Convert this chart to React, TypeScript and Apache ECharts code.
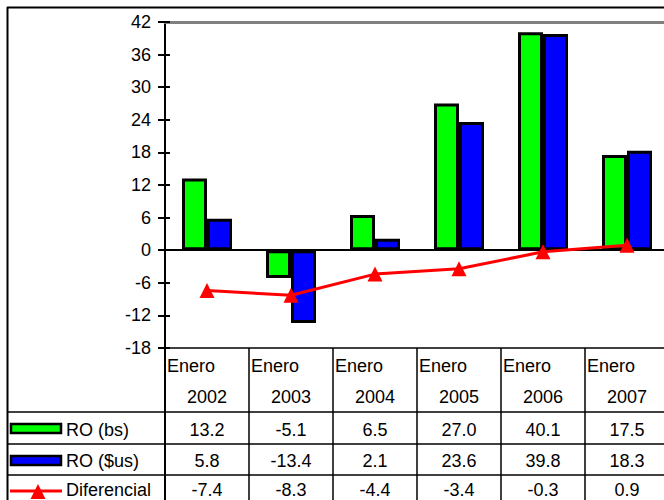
import React, { useEffect, useRef } from "react";
import * as echarts from "echarts";

const categories = ["2002", "2003", "2004", "2005", "2006", "2007"];
const headerPrefix = "Enero";
const seriesNames = ["RO (bs)", "RO ($us)", "Diferencial"];
const roBs = [13.2, -5.1, 6.5, 27.0, 40.1, 17.5];
const roUs = [5.8, -13.4, 2.1, 23.6, 39.8, 18.3];
const diferencial = [-7.4, -8.3, -4.4, -3.4, -0.3, 0.9];
const yMin = -18;
const yMax = 42;
const yInterval = 6;

const FONT = '18px "Liberation Sans", Arial, sans-serif';
const FAMILY = '"Liberation Sans", Arial, sans-serif';

export default function App() {
  const ref = useRef<HTMLDivElement>(null);

  useEffect(() => {
    if (!ref.current) return;
    const chart = echarts.init(ref.current, null, { renderer: "svg" });
    const gridLeft = 165;
    const gridTop = 22;
    const gridHeight = 326;
    const gridWidth = 504;

    const option: any = {
      animation: false,
      backgroundColor: "#ffffff",
      grid: { left: gridLeft, top: gridTop, width: gridWidth, height: gridHeight, containLabel: false },
      xAxis: [
        {
          type: "category",
          data: categories,
          position: "bottom",
          axisLine: { show: true, onZero: true, lineStyle: { color: "#000", width: 2 } },
          axisTick: { show: false },
          axisLabel: { show: false },
          splitLine: { show: false },
        },
        {
          type: "category",
          data: categories,
          position: "top",
          axisLine: { show: true, onZero: false, lineStyle: { color: "#808080", width: 3 } },
          axisTick: { show: false },
          axisLabel: { show: false },
          splitLine: { show: false },
        },
      ],
      yAxis: [
        {
          type: "value",
          min: yMin,
          max: yMax,
          interval: yInterval,
          position: "left",
          axisLine: { show: true, lineStyle: { color: "#000", width: 2 } },
          axisTick: { show: true, inside: false, length: 7, lineStyle: { color: "#000", width: 2 } },
          axisLabel: { show: true, margin: 14, color: "#000", fontSize: 18, fontFamily: FAMILY },
          splitLine: { show: false },
        },
        {
          type: "value",
          min: yMin,
          max: yMax,
          interval: yInterval,
          position: "left",
          axisLine: { show: false },
          axisTick: { show: true, inside: true, length: 5, lineStyle: { color: "#000", width: 2 } },
          axisLabel: { show: false },
          splitLine: { show: false },
        },
      ],
      series: [
        {
          name: seriesNames[0],
          type: "bar",
          data: roBs,
          barWidth: 25,
          barGap: "0%",
          itemStyle: { color: "#00ff00", borderColor: "#000", borderWidth: 3 },
        },
        {
          name: seriesNames[1],
          type: "bar",
          data: roUs,
          barWidth: 25,
          barGap: "0%",
          itemStyle: { color: "#0000ff", borderColor: "#000", borderWidth: 3 },
        },
        {
          name: seriesNames[2],
          type: "line",
          data: diferencial,
          symbol: "triangle",
          symbolSize: 15,
          lineStyle: { color: "#ff0000", width: 3 },
          itemStyle: { color: "#ff0000" },
          z: 5,
        },
      ],
    };
    chart.setOption(option);

    const centers = categories.map((c) => chart.convertToPixel({ xAxisIndex: 0 }, c) as number);
    const band = centers.length > 1 ? centers[1] - centers[0] : gridWidth;
    const colLefts = centers.map((c) => c - band / 2);
    const right = 700;
    const tableTop = gridTop + gridHeight;
    const rowLines = [412, 444, 475];
    const rowCenters = [430, 461, 490];
    const rowValues = [roBs, roUs, diferencial];

    const lineStyle = { stroke: "#000", lineWidth: 1.5 };
    const g: any[] = [];
    g.push({ type: "line", shape: { x1: 7, y1: 7.5, x2: right, y2: 7.5 }, style: { stroke: "#000", lineWidth: 2 } });
    g.push({ type: "line", shape: { x1: 7.5, y1: 7, x2: 7.5, y2: 500 }, style: { stroke: "#000", lineWidth: 2 } });
    g.push({ type: "line", shape: { x1: gridLeft, y1: tableTop, x2: right, y2: tableTop }, style: lineStyle });
    rowLines.forEach((y) => {
      g.push({ type: "line", shape: { x1: 7, y1: y, x2: right, y2: y }, style: lineStyle });
    });
    colLefts.forEach((x, i) => {
      g.push({
        type: "line",
        shape: { x1: x, y1: i === 0 ? tableTop - 1 : tableTop, x2: x, y2: 500 },
        style: i === 0 ? { stroke: "#000", lineWidth: 2 } : lineStyle,
      });
    });
    g.push({ type: "line", shape: { x1: colLefts[colLefts.length - 1] + band, y1: tableTop, x2: colLefts[colLefts.length - 1] + band, y2: 500 }, style: lineStyle });

    const txt = (text: string, x: number, y: number, align: string) => ({
      type: "text",
      x,
      y,
      style: {
        text,
        font: FONT,
        fill: "#000",
        textAlign: align,
        textVerticalAlign: "middle",
        align,
        verticalAlign: "middle",
      },
      z: 10,
    });

    categories.forEach((c, i) => {
      g.push(txt(headerPrefix, colLefts[i] + 2, 366, "left"));
      g.push(txt(c, centers[i], 397, "center"));
    });
    rowValues.forEach((vals, r) => {
      vals.forEach((v, i) => {
        g.push(txt(v.toFixed(1), centers[i], rowCenters[r], "center"));
      });
      g.push(txt(seriesNames[r], 66, rowCenters[r], "left"));
    });
    g.push({ type: "rect", shape: { x: 11, y: 424, width: 50, height: 9 }, style: { fill: "#00ff00", stroke: "#000", lineWidth: 2.5 }, z: 10 });
    g.push({ type: "rect", shape: { x: 11, y: 456, width: 50, height: 9 }, style: { fill: "#0000ff", stroke: "#000", lineWidth: 2.5 }, z: 10 });
    g.push({ type: "line", shape: { x1: 10, y1: 491, x2: 62, y2: 491 }, style: { stroke: "#ff0000", lineWidth: 3 }, z: 10 });
    g.push({ type: "polygon", shape: { points: [[38, 484], [30.5, 499], [45.5, 499]] }, style: { fill: "#ff0000" }, z: 10 });

    chart.setOption({ graphic: g });

    return () => chart.dispose();
  }, []);

  return (
    <div style={{ position: "absolute", left: 0, top: 0, width: 664, height: 500, overflow: "hidden", background: "#fff" }}>
      <div ref={ref} style={{ width: 700, height: 500 }} />
    </div>
  );
}
